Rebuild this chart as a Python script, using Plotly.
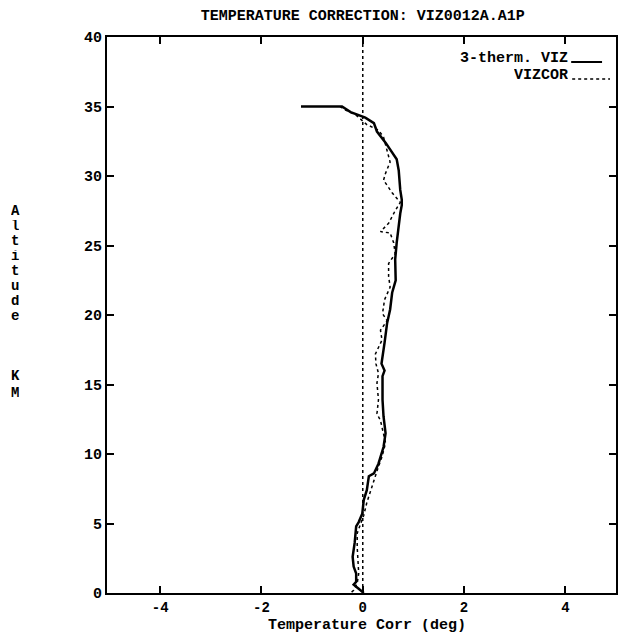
import plotly.graph_objects as go

# 3-thermistor VIZ temperature correction profile (deg vs km)
corr_viz = [-1.22, -0.41, -0.24, 0.05, 0.22, 0.28, 0.45, 0.67, 0.71, 0.74, 0.77, 0.77,
            0.74, 0.71, 0.70, 0.67, 0.64, 0.65, 0.58, 0.54, 0.48, 0.43, 0.37, 0.43,
            0.39, 0.39, 0.41, 0.45, 0.41, 0.31, 0.22, 0.12, 0.08, 0.02, -0.01, -0.08,
            -0.13, -0.16, -0.20, -0.18, -0.13, -0.13, -0.18, -0.08, 0.02]
alt_viz = [35.0, 35.0, 34.6, 34.2, 33.8, 33.2, 32.4, 31.2, 30.4, 29.0, 28.3, 27.9,
           27.3, 26.6, 26.1, 25.2, 24.0, 22.5, 21.6, 20.4, 19.4, 18.0, 16.5, 16.0,
           15.6, 13.9, 12.7, 11.5, 10.5, 9.3, 8.6, 8.4, 7.4, 6.7, 5.7, 5.1,
           4.8, 3.6, 2.6, 1.9, 1.4, 0.8, 0.6, 0.3, 0.0]

# VIZCOR correction profile
corr_cor = [-0.45, -0.37, -0.14, 0.08, 0.31, 0.41, 0.54, 0.45, 0.41, 0.58, 0.74, 0.64,
            0.51, 0.35, 0.54, 0.61, 0.64, 0.51, 0.51, 0.54, 0.43, 0.39, 0.48, 0.35,
            0.38, 0.25, 0.26, 0.31, 0.28, 0.31, 0.28, 0.35, 0.45, 0.38, 0.31, 0.25,
            0.15, 0.08, 0.02, -0.04, -0.11, -0.11, -0.09, -0.08, -0.11, -0.18, -0.24]
alt_cor = [35.0, 34.8, 34.4, 33.7, 33.3, 32.8, 31.0, 30.2, 29.7, 28.8, 28.1, 27.5,
           26.6, 26.0, 25.9, 25.2, 24.4, 23.7, 22.8, 22.0, 21.1, 20.1, 19.6, 18.9,
           18.2, 17.2, 16.5, 15.8, 15.1, 13.9, 12.9, 12.4, 10.8, 9.8, 9.1, 8.4,
           7.4, 6.5, 5.6, 5.0, 4.3, 3.3, 2.4, 1.4, 0.7, 0.2, 0.0]

x_ticks = [-4, -2, 0, 2, 4]
y_ticks = [0, 5, 10, 15, 20, 25, 30, 35, 40]
series_names = ["3-therm. VIZ", "VIZCOR"]
y_title_letters = list("Altitude") + ["K", "M"]

FONT = "Courier New, Liberation Mono, monospace"
L, R, T, B, W, H = 107, 2, 37, 40, 620, 633
PW, PH = W - L - R, H - T - B


def px_x(px):
    return (px - L) / PW


def px_y(py):
    return 1 - (py - T) / PH


fig = go.Figure()
fig.add_trace(go.Scatter(x=corr_cor, y=alt_cor, mode="lines",
                         line=dict(color="black", width=1.5, dash="dot"),
                         name=series_names[1]))
fig.add_trace(go.Scatter(x=corr_viz, y=alt_viz, mode="lines",
                         line=dict(color="black", width=2.5),
                         name=series_names[0]))

# dotted zero reference line
fig.add_shape(type="line", xref="x", yref="y", x0=0, x1=0, y0=0, y1=40,
              line=dict(color="black", width=1.5, dash="dot"))

axis_common = dict(showline=True, linecolor="black", linewidth=2, mirror="ticks",
                   ticks="inside", ticklen=7, tickwidth=1.5, tickcolor="black",
                   showgrid=False, zeroline=False)

fig.update_xaxes(range=[-5.05, 5.0], tickvals=x_ticks,
                 ticktext=[f"<b>{v}</b>" for v in x_ticks],
                 tickfont=dict(family=FONT, size=14, color="black"), **axis_common)
fig.update_yaxes(range=[0, 40], tickvals=y_ticks,
                 ticktext=[f"<b>{v}</b>" for v in y_ticks],
                 tickfont=dict(family=FONT, size=15, color="black"), **axis_common)

fig.update_layout(
    width=W, height=H,
    margin=dict(l=L, r=R, t=T, b=B),
    paper_bgcolor="white", plot_bgcolor="white",
    showlegend=False,
    title=dict(text="<b>TEMPERATURE CORRECTION: VIZ0012A.A1P</b>",
               x=0.585, xanchor="center", y=0.976, yanchor="middle",
               font=dict(family=FONT, size=15, color="black")),
)

# x-axis title
fig.add_annotation(text="<b>Temperature Corr (deg)</b>", xref="paper", yref="paper",
                   x=px_x(368), y=px_y(625), xanchor="center", yanchor="middle",
                   height=13, showarrow=False,
                   font=dict(family=FONT, size=15, color="black"))

# stacked vertical axis title
y_positions = [211, 226, 241, 256, 271, 286, 301, 316, 376, 393]
for ch, ypx in zip(y_title_letters, y_positions):
    fig.add_annotation(text=f"<b>{ch}</b>", xref="paper", yref="paper",
                       x=px_x(15), y=px_y(ypx), height=12,
                       xanchor="center", yanchor="middle", showarrow=False,
                       font=dict(family=FONT, size=14, color="black"))

# legend entries: label followed by a line sample
legend_rows = [(series_names[0], 58, 62, dict(color="black", width=2), 573, 604),
               (series_names[1], 75, 79, dict(color="black", width=1.5, dash="dot"), 574, 612)]
for label, ty, ly, lstyle, lx0, lx1 in legend_rows:
    fig.add_annotation(text=f"<b>{label}</b>", xref="paper", yref="paper",
                       x=px_x(572), y=px_y(ty), height=14,
                       xanchor="right", yanchor="middle", showarrow=False,
                       font=dict(family=FONT, size=15, color="black"))
    fig.add_shape(type="line", xref="paper", yref="paper",
                  x0=px_x(lx0), x1=px_x(lx1), y0=px_y(ly), y1=px_y(ly), line=lstyle)

fig.write_html("out.html")
